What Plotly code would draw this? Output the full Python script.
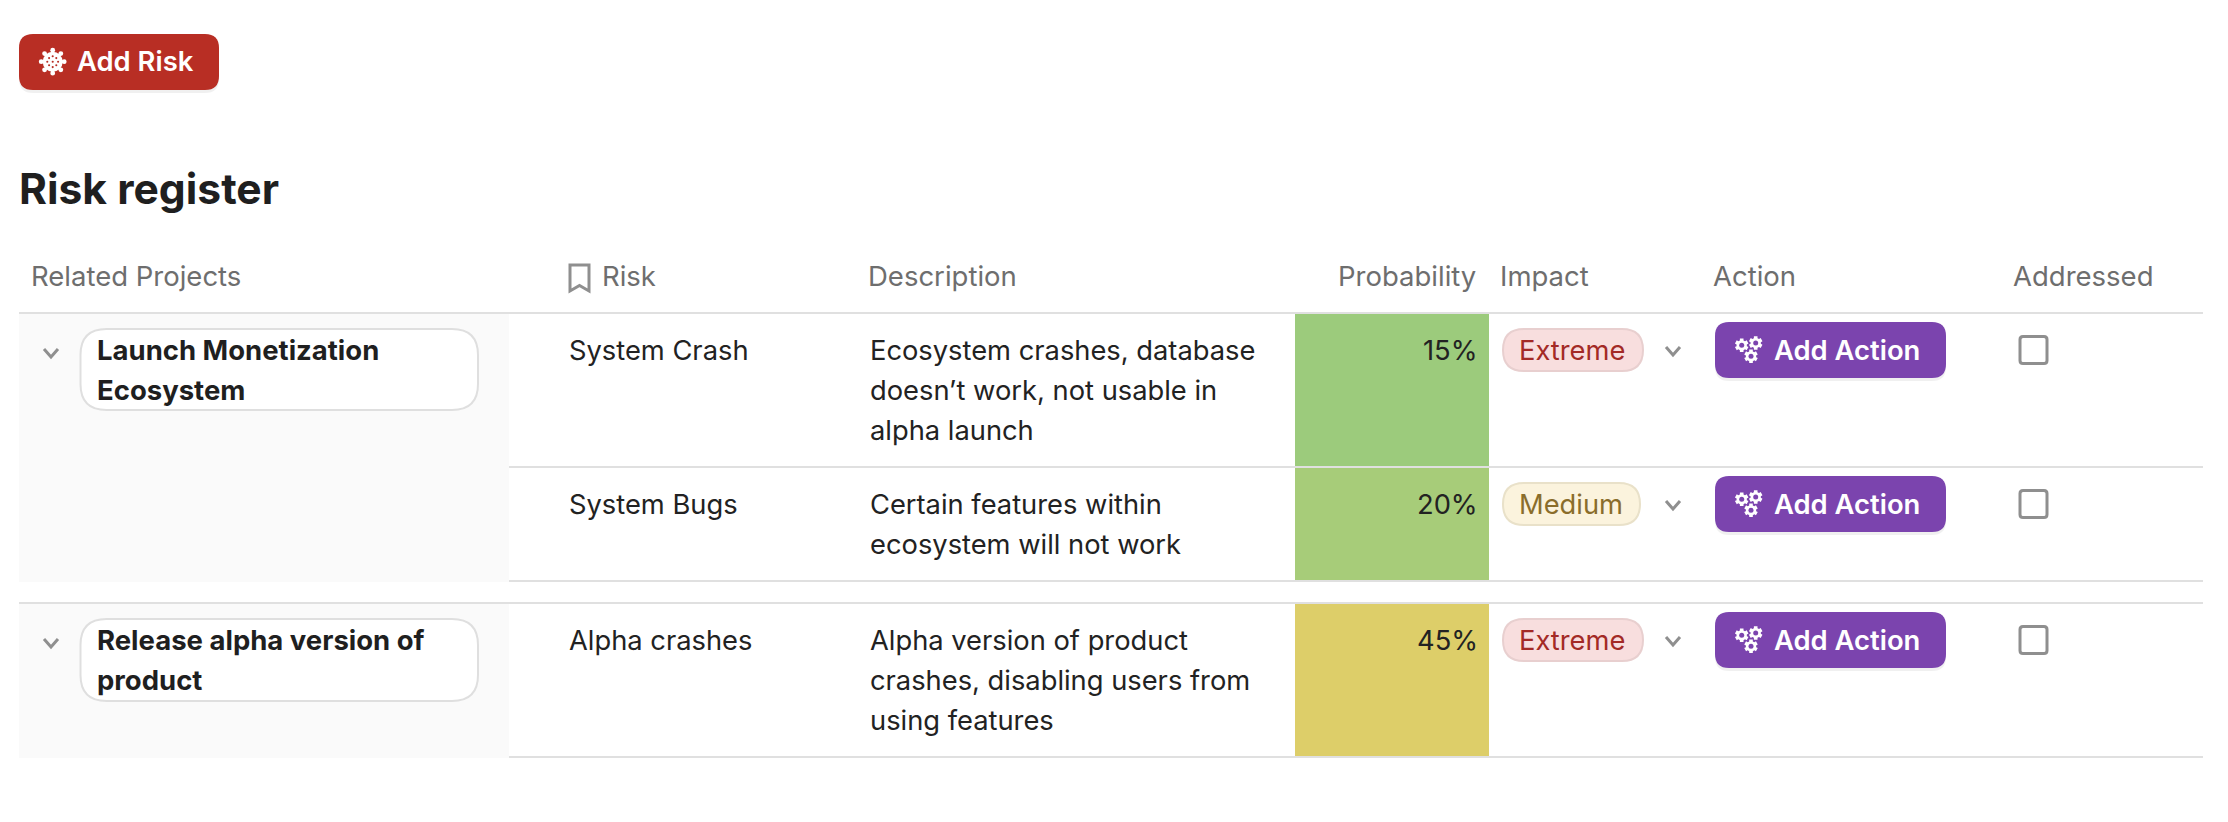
import math
import plotly.graph_objects as go

# ---------- data ----------
BUTTON_LABEL = "Add Risk"
TITLE = "Risk register"
HEADERS = ["Related Projects", "Risk", "Description", "Probability", "Impact", "Action", "Addressed"]
PROJECTS = [["Launch Monetization", "Ecosystem"], ["Release alpha version of", "product"]]
RISKS = ["System Crash", "System Bugs", "Alpha crashes"]
DESCRIPTIONS = [
    ["Ecosystem crashes, database", "doesn\u2019t work, not usable in", "alpha launch"],
    ["Certain features within", "ecosystem will not work"],
    ["Alpha version of product", "crashes, disabling users from", "using features"],
]
PROBABILITY = [15, 20, 45]
IMPACT = ["Extreme", "Medium", "Extreme"]
ACTION_LABEL = "Add Action"

# ---------- geometry (page pixels) ----------
W, H = 2228, 822
FONT = "Inter"
FS = 27.3
FS_HEAD = 27.5
FS_BOLD = 27.5
LH = 40
ROW_BASE = [360, 514, 650]
ROW_MID = [350, 504, 640]
ROW_SPANS = [(314, 466), (468, 580), (604, 756)]
PROJECT_BOX = [(329, 410), (619, 701)]
PROJECT_BASE = [360, 650]
PANELS = [(314, 582), (604, 758)]
IMPACT_STYLE = {
    "Extreme": dict(fill="#F8DEDE", line="#E8CFCF", text="#A32A26", right=1643),
    "Medium": dict(fill="#FBF3DD", line="#E9E1C9", text="#8A6D2B", right=1640),
}
INK = "#222222"
HEAD = "#6E6E6E"
GRAY = "#8F8F8F"
RULE = "#E0E0E0"

shapes = []
annos = []


def rr(x0, y0, x1, y1, r):
    return (f"M{x0+r},{y0} L{x1-r},{y0} Q{x1},{y0} {x1},{y0+r} L{x1},{y1-r} Q{x1},{y1} {x1-r},{y1} "
            f"L{x0+r},{y1} Q{x0},{y1} {x0},{y1-r} L{x0},{y0+r} Q{x0},{y0} {x0+r},{y0} Z")


def box(x0, y0, x1, y1, r, fill, line=None, lw=0, layer="above"):
    shapes.append(dict(type="path", path=rr(x0, y0, x1, y1, r), fillcolor=fill,
                       line=dict(color=line or fill, width=lw), layer=layer))


def hline(x0, x1, y):
    shapes.append(dict(type="line", x0=x0, x1=x1, y0=y, y1=y, line=dict(color=RULE, width=2), layer="above"))


def text(x, base, s, size=FS, color=INK, weight=400, anchor="left"):
    annos.append(dict(x=x, y=base - 0.364 * size, text=s, xref="x", yref="y", showarrow=False,
                      xanchor=anchor, yanchor="middle", borderpad=0, borderwidth=0,
                      font=dict(family=FONT, size=size, color=color, weight=weight)))


def chevron(cx, cy, w=14, h=8):
    shapes.append(dict(type="path", path=f"M{cx-w/2},{cy-h/2} L{cx},{cy+h/2} L{cx+w/2},{cy-h/2}",
                       line=dict(color=GRAY, width=3), fillcolor="rgba(0,0,0,0)", layer="above"))


def disc(cx, cy, r, fill):
    shapes.append(dict(type="circle", x0=cx-r, x1=cx+r, y0=cy-r, y1=cy+r, fillcolor=fill,
                       line=dict(width=0), layer="above"))


def gear(cx, cy, r_out, r_in, hole, fill, bg):
    pts = []
    n = 6
    for i in range(n):
        a = 2 * math.pi * i / n + math.pi / 6
        for da, r in ((-0.36, r_in), (-0.26, r_out), (0.26, r_out), (0.36, r_in)):
            pts.append((cx + r * math.cos(a + da), cy + r * math.sin(a + da)))
    p = "M" + " L".join(f"{x:.2f},{y:.2f}" for x, y in pts) + " Z"
    shapes.append(dict(type="path", path=p, fillcolor=fill, line=dict(width=0), layer="above"))
    disc(cx, cy, hole, bg)


def virus(cx, cy, fill, bg):
    disc(cx, cy, 10, fill)
    for i in range(8):
        a = 2 * math.pi * i / 8
        x1, y1 = cx + 11.5 * math.cos(a), cy + 11.5 * math.sin(a)
        shapes.append(dict(type="line", x0=cx, y0=cy, x1=x1, y1=y1, line=dict(color=fill, width=2.8), layer="above"))
        disc(x1, y1, 2.4, fill)
    for dx, dy in ((0, 0), (-3.6, -3.6), (3.6, -3.6), (-3.6, 3.6), (3.6, 3.6), (0, -5.4), (0, 5.4), (-5.4, 0), (5.4, 0)):
        disc(cx + dx, cy + dy, 1.05, bg)


# ---------- top button + title ----------
box(19, 36, 219, 93, 14, "rgba(0,0,0,0.06)")
box(19, 34, 219, 90, 14, "#B82E24")
virus(52.7, 61.7, "#FFFFFF", "#B82E24")
text(77, 71.3, BUTTON_LABEL, size=27.4, color="#FFFFFF", weight=600)
text(18.5, 204, TITLE, size=42.6, color="#1F1F1F", weight=700)

# ---------- header ----------
HEAD_POS = [(30.5, "left"), (602, "left"), (868, "left"), (1476, "right"), (1499.5, "left"), (1713, "left"), (2013, "left")]
for label, (x, a) in zip(HEADERS, HEAD_POS):
    text(x, 286.4, label, size=FS_HEAD, color=HEAD, anchor=a)
shapes.append(dict(type="path", path="M570,265 L589,265 L589,291 L579.5,285.5 L570,291 Z",
                   line=dict(color=GRAY, width=3), fillcolor="rgba(0,0,0,0)", layer="above"))

# ---------- left panels ----------
for y0, y1 in PANELS:
    shapes.append(dict(type="rect", x0=19, x1=509, y0=y0, y1=y1, fillcolor="#FAFAFA", line=dict(width=0), layer="below"))
for k in range(len(PROJECTS)):
    y0, y1 = PROJECT_BOX[k]
    base = PROJECT_BASE[k]
    chevron(51, base - 7)
    box(80.5, y0, 478, y1, 26, "#FFFFFF", "#DFDFDF", 2)
    for i, s in enumerate(PROJECTS[k]):
        text(97, base + i * LH, s, size=FS_BOLD, color="#1F1F1F", weight=700)

# ---------- rules ----------
hline(19, 2203, 313)
hline(509, 2203, 467)
hline(509, 2203, 581)
hline(19, 2203, 603)
hline(509, 2203, 757)

# ---------- rows ----------
for i in range(3):
    base, mid = ROW_BASE[i], ROW_MID[i]
    text(569, base, RISKS[i])
    for j, s in enumerate(DESCRIPTIONS[i]):
        text(870, base + j * LH, s)
    text(1477.5, base, f"{PROBABILITY[i]}%", anchor="right")
    st = IMPACT_STYLE[IMPACT[i]]
    box(1503, mid - 21, st["right"], mid + 21, 21, st["fill"], st["line"], 2)
    text(1519, base, IMPACT[i], color=st["text"])
    chevron(1673, mid + 1)
    box(1715, mid - 26, 1946, mid + 31, 14, "rgba(0,0,0,0.06)")
    box(1715, mid - 28, 1946, mid + 28, 14, "#7B44AE")
    for dx, dy in ((1741.7, -4.7), (1755.7, -7), (1751, 6.3)):
        gear(dx, mid + dy, 7, 5.2, 2.5, "#FFFFFF", "#7B44AE")
    text(1773.5, base, ACTION_LABEL, size=27.4, color="#FFFFFF", weight=600)
    box(2020, mid - 13.5, 2047, mid + 13.5, 3, "#FFFFFF", GRAY, 3)

# ---------- probability cells through a colour scale ----------
y_edges = [ROW_SPANS[0][0], ROW_SPANS[0][1] + 1, ROW_SPANS[1][1] + 1, ROW_SPANS[2][0], ROW_SPANS[2][1] + 1]
z = [[PROBABILITY[0]], [PROBABILITY[1]], [None], [PROBABILITY[2]]]
heat = go.Heatmap(x=[1295, 1489], y=y_edges, z=z, zmin=15, zmax=45, showscale=False, hoverinfo="skip",
                  colorscale=[[0, "#9CCB7C"], [1, "#DDCE69"]])

fig = go.Figure(heat)
fig.update_layout(
    width=W, height=H, margin=dict(l=0, r=0, t=0, b=0), autosize=False,
    paper_bgcolor="#FFFFFF", plot_bgcolor="#FFFFFF", showlegend=False,
    xaxis=dict(range=[0, W], visible=False, fixedrange=True),
    yaxis=dict(range=[H, 0], visible=False, fixedrange=True),
    shapes=shapes, annotations=annos,
)
fig.write_html("out.html", config=dict(displayModeBar=False),
               post_script="document.body.style.margin='0';document.body.style.overflow='hidden';")
